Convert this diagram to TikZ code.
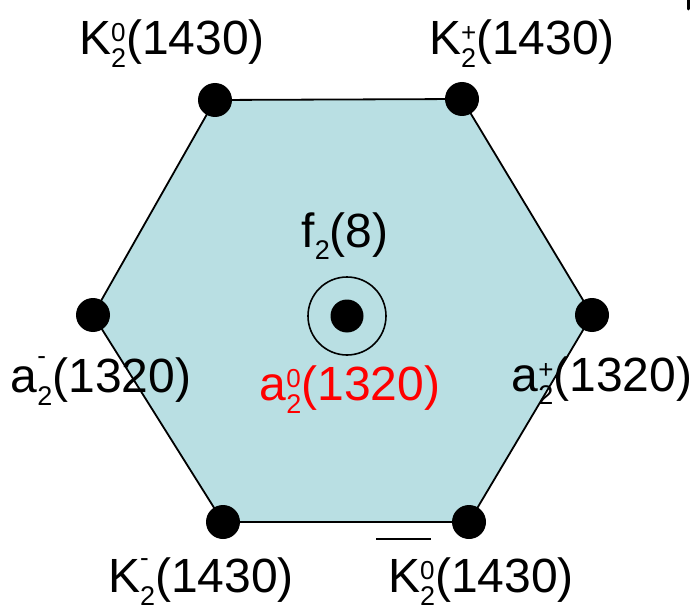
\documentclass[tikz,border=0pt]{standalone}
\usepackage{fontspec}
\setmainfont{Liberation Sans}
\definecolor{hexfill}{RGB}{185,223,227}
\definecolor{lblred}{RGB}{255,0,0}
\newcommand\mysupsub[3][0pt]{%
\setbox0\hbox{\fontsize{27}{27}\selectfont\raisebox{-13pt}{#2}}%
\setbox2\hbox{\fontsize{26}{26}\selectfont\raisebox{\dimexpr13pt+#1\relax}{#3}}%
\ifdim\wd0>\wd2 \rlap{\box2}\box0\else\rlap{\box0}\box2\fi}
\begin{document}
\begin{tikzpicture}[x=1pt,y=-1pt,
  dot/.style={circle,fill=black,inner sep=0pt,minimum size=34pt},
  lbl/.style={anchor=base,inner sep=0pt,font=\fontsize{48}{58}\selectfont},
  edge/.style={draw=black,line width=1.8pt}]
\useasboundingbox (0,0) rectangle (697,610);
\coordinate (v1) at (215,100);
\coordinate (v2) at (462,99);
\coordinate (v3) at (592,315);
\coordinate (v4) at (469,522);
\coordinate (v5) at (223,522);
\coordinate (v6) at (93,315);
\fill[hexfill] (v1) -- (v2) -- (v3) -- (v4) -- (v5) -- (v6) -- cycle;
\draw[edge,line join=miter] (v1) -- (v2) -- (v3) -- (v4) -- (v5) -- (v6) -- cycle;
\node[dot] (d1) at (v1) {};
\node[dot] (d2) at (v2) {};
\node[dot] (d3) at (v3) {};
\node[dot] (d4) at (v4) {};
\node[dot] (d5) at (v5) {};
\node[dot] (d6) at (v6) {};
\node[dot,minimum size=33pt] (c) at (347,316) {};
\node[circle,draw=black,line width=1.6pt,inner sep=0pt,minimum size=78pt] (ring) at (347,316) {};
\node[lbl] (lK0) at (172,55) {K\mysupsub{2}{0}(1430)};
\node[lbl] (lKp) at (522,55) {K\mysupsub{2}{+}(1430)};
\node[lbl] (lf) at (345,247) {f\mysupsub{2}{}(8)};
\node[lbl,text=lblred] (la0) at (350,400) {a\mysupsub{2}{0}(1320)};
\node[lbl] (lam) at (101,392) {a\mysupsub[15pt]{2}{-}(1320)};
\node[lbl] (lap) at (602,391) {a\mysupsub{2}{+}(1320)};
\node[lbl] (lKm) at (201,592) {K\mysupsub[13pt]{2}{-}(1430)};
\node[lbl] (lKb) at (481,592) {\rlap{\kern-12pt\raisebox{52pt}{\rule{55pt}{2pt}}}K\mysupsub{2}{0}(1430)};
\draw[line width=3pt,line cap=round] (688.5,-2) -- (688.5,9);
\end{tikzpicture}
\end{document}
